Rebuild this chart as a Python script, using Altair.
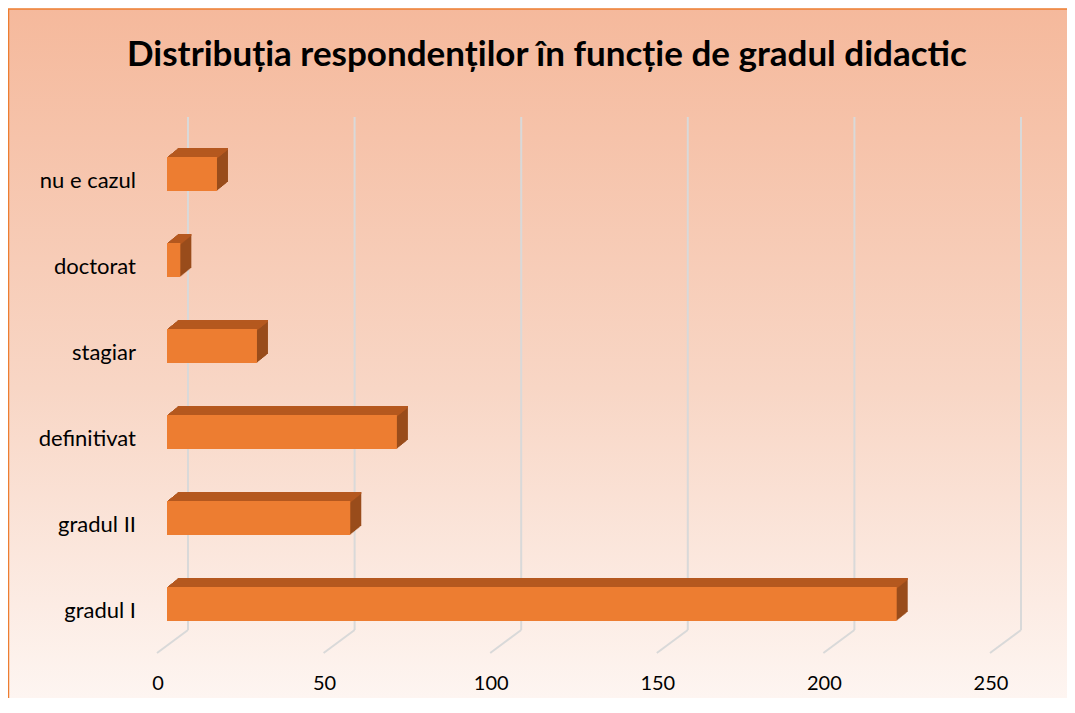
import altair as alt
import pandas as pd

# ---- data ----
categories = ["gradul I", "gradul II", "definitivat", "stagiar", "doctorat", "nu e cazul"]
counts = [219, 55, 69, 27, 4, 15]
tick_values = [0, 50, 100, 150, 200, 250]
title_text = "Distribuția respondenților în funcție de gradul didactic"

df = pd.DataFrame({"cat": categories, "n": counts})
ticks = pd.DataFrame({"t": tick_values})
one = pd.DataFrame({"a": [0]})

# ---- layout (pixels) ----
W, H = 833, 516
PAD_L, PAD_T = 159, 123
BAR = 34
DX, DY = 11, 9
FONT = "Lato"

FRONT = "#ED7D31"
TOP = "#B5581F"
SIDE = "#994C1B"
GRID = "#D9D9D9"

order = list(reversed(categories))
xs = alt.Scale(domain=[0, 250], nice=False, zero=True)
ys = alt.Scale(domain=order, paddingInner=0, paddingOuter=0)

gradient = alt.LinearGradient(
    gradient="linear",
    stops=[alt.GradientStop(color="#F5B99C", offset=0),
           alt.GradientStop(color="#F8D6C5", offset=0.5),
           alt.GradientStop(color="#FFFCFB", offset=1)],
    x1=0, x2=0, y1=0, y2=1)

bg = alt.Chart(one).mark_rect(fill=gradient, stroke=FRONT, strokeWidth=1.5).encode(
    x=alt.value(-158.5), x2=alt.value(W + 100),
    y=alt.value(-122), y2=alt.value(H + 120))

grid = alt.Chart(ticks).mark_rule(color=GRID, strokeWidth=2, xOffset=21).encode(
    x=alt.X("t:Q", scale=xs, axis=None),
    y=alt.value(499), y2=alt.value(-14))

floor = alt.Chart(ticks).mark_rule(color=GRID, strokeWidth=2, xOffset=-10, x2Offset=21).encode(
    x=alt.X("t:Q", scale=xs, axis=None),
    x2="t:Q",
    y=alt.value(522), y2=alt.value(499))

tick_labels = alt.Chart(ticks).mark_text(font=FONT, fontSize=20, dx=-9, baseline="middle",
                                         color="black").encode(
    x=alt.X("t:Q", scale=xs, axis=None),
    y=alt.value(553),
    text="t:Q")

cat_labels = alt.Chart(df).mark_text(font=FONT, fontSize=22, align="right", baseline="middle",
                                     dy=7, color="black").encode(
    x=alt.value(-31),
    y=alt.Y("cat:N", scale=ys, axis=None, sort=order),
    text="cat:N")

layers = [bg, grid, floor]

# side / back extrusion
for i in range(1, DX + 1):
    yoff = -i * DY / DX
    layers.append(
        alt.Chart(df).mark_bar(color=SIDE, size=BAR, xOffset=i, x2Offset=i,
                               yOffset=yoff, y2Offset=yoff).encode(
            x=alt.X("n:Q", scale=xs, axis=None),
            y=alt.Y("cat:N", scale=ys, axis=None, sort=order)))
# top face
for i in range(0, DX + 1):
    yoff = -BAR / 2 + 1 - i * DY / DX
    layers.append(
        alt.Chart(df).mark_bar(color=TOP, size=2, xOffset=i, x2Offset=i,
                               yOffset=yoff, y2Offset=yoff).encode(
            x=alt.X("n:Q", scale=xs, axis=None),
            y=alt.Y("cat:N", scale=ys, axis=None, sort=order)))
# front face
layers.append(
    alt.Chart(df).mark_bar(color=FRONT, size=BAR).encode(
        x=alt.X("n:Q", scale=xs, axis=None),
        y=alt.Y("cat:N", scale=ys, axis=None, sort=order)))

title = alt.Chart(one).mark_text(text=title_text, font=FONT, fontWeight="bold",
                                 fontSize=35, align="center", baseline="middle",
                                 color="black").encode(
    x=alt.value(380), y=alt.value(-76))

layers += [tick_labels, cat_labels, title]

chart = alt.layer(*layers).properties(
    width=W, height=H,
    autosize="none",
    padding={"left": PAD_L, "top": PAD_T, "right": 1059 - PAD_L - W,
             "bottom": 690 - PAD_T - H},
).configure_view(strokeWidth=0)

chart.save("out.html", embed_options={"renderer": "svg", "actions": False})
